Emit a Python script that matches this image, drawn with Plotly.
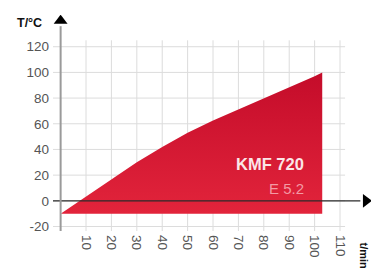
import plotly.graph_objects as go

# Data
time_min = [0, 10, 20, 30, 40, 50, 60, 70, 80, 90, 100, 103]
temp_c = [-10, 3.5, 17, 30, 42, 53, 62.5, 71, 79.5, 88, 97, 100]
base_temp = -10
x_ticks = [10, 20, 30, 40, 50, 60, 70, 80, 90, 100, 110]
y_ticks = [-20, 0, 20, 40, 60, 80, 100, 120]
model_label = "KMF 720"
sub_label = "E 5.2"

FONT = "Liberation Sans, Arial, sans-serif"
fig = go.Figure()

# grid lines (data coords)
shapes = []
for xv in x_ticks:
    shapes.append(dict(type="line", xref="x", yref="y", x0=xv, x1=xv, y0=-23.5, y1=125,
                       line=dict(color="#dcdcdc", width=1), layer="below"))
for yv in y_ticks:
    shapes.append(dict(type="line", xref="x", yref="y", x0=-3, x1=112, y0=yv, y1=yv,
                       line=dict(color="#dcdcdc", width=1), layer="below"))

# filled area
poly_x = time_min + [time_min[-1], time_min[0]]
poly_y = temp_c + [base_temp, base_temp]
fig.add_trace(go.Scatter(
    x=poly_x, y=poly_y, mode="lines", fill="toself",
    line=dict(width=0, color="rgba(0,0,0,0)"),
    fillgradient=dict(type="vertical",
                      colorscale=[[0, "#e2243b"], [1, "#c40c2a"]]),
    hoverinfo="skip", showlegend=False))

# x axis line at 0
fig.add_trace(go.Scatter(x=[-3, 118], y=[0, 0], mode="lines",
                         line=dict(color="#2a2a2a", width=1.2),
                         hoverinfo="skip", showlegend=False))
# y axis line
fig.add_trace(go.Scatter(x=[0, 0], y=[-23.5, 136], mode="lines",
                         line=dict(color="#9a9a9a", width=2),
                         hoverinfo="skip", showlegend=False))
# arrows
fig.add_trace(go.Scatter(x=[0], y=[140.3], mode="markers",
                         marker=dict(symbol="triangle-up", size=12, color="#000"),
                         hoverinfo="skip", showlegend=False))
fig.add_trace(go.Scatter(x=[120.2], y=[0], mode="markers",
                         marker=dict(symbol="triangle-right", size=12, color="#000"),
                         hoverinfo="skip", showlegend=False))

fig.add_annotation(x=96.5, y=28.8, xref="x", yref="y", text="<b>" + model_label + "</b>",
                   showarrow=False, xanchor="right", yanchor="middle",
                   font=dict(family=FONT, size=16.5, color="#fbe6e8"))
fig.add_annotation(x=96.5, y=9.5, xref="x", yref="y", text=sub_label,
                   showarrow=False, xanchor="right", yanchor="middle",
                   font=dict(family=FONT, size=15, color="#f39aa4"))
# axis titles
fig.add_annotation(x=-0.12, y=0.963, xref="paper", yref="paper", text="<b>T/°C</b>",
                   showarrow=False, xanchor="left", yanchor="middle",
                   font=dict(family=FONT, size=12.5, color="#111"))
fig.add_annotation(x=0.953, y=-0.042, xref="paper", yref="paper", text="<b>t/min</b>",
                   showarrow=False, xanchor="left", yanchor="top", textangle=90,
                   font=dict(family=FONT, size=11, color="#111"))

fig.update_layout(
    width=371, height=273,
    margin=dict(l=53, r=0, t=15, b=42),
    paper_bgcolor="white", plot_bgcolor="white",
    shapes=shapes,
    showlegend=False,
    xaxis=dict(range=[-3, 122.2], tickvals=x_ticks, ticktext=[str(v) for v in x_ticks],
               tickangle=90, showgrid=False, zeroline=False, showline=False,
               ticks="", fixedrange=True, automargin=False, ticklabelstandoff=3,
               tickfont=dict(family=FONT, size=13.5, color="#555")),
    yaxis=dict(range=[-23.5, 144.7], tickvals=y_ticks, ticktext=[str(v) for v in y_ticks],
               showgrid=False, zeroline=False, showline=False, ticks="", fixedrange=True,
               automargin=False, ticklabelstandoff=3,
               tickfont=dict(family=FONT, size=13.5, color="#555")),
)

fig.write_html("out.html", config={"displayModeBar": False},
               post_script="document.body.style.margin='0';document.body.style.overflow='hidden';")
